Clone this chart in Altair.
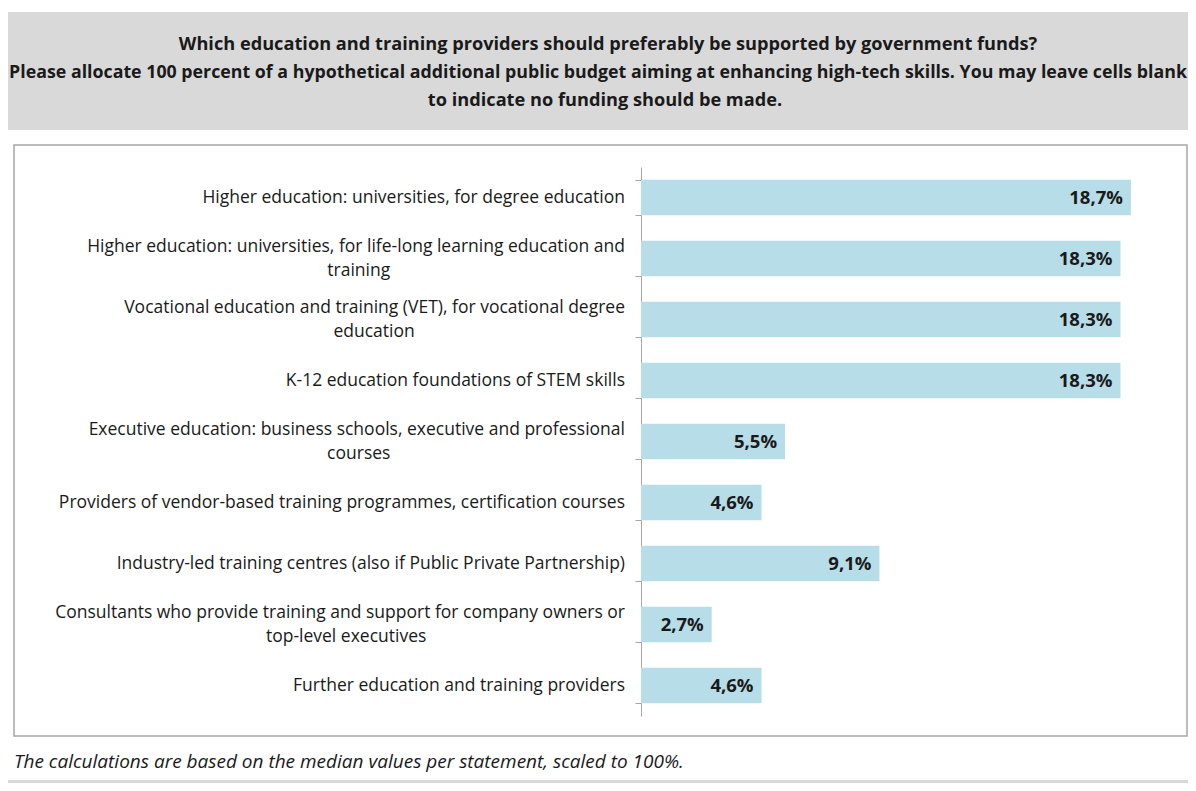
import altair as alt
import pandas as pd

categories = [
    "Higher education: universities, for degree education",
    "Higher education: universities, for life-long learning education and training",
    "Vocational education and training (VET), for vocational degree education",
    "K-12 education foundations of STEM skills",
    "Executive education: business schools, executive and professional courses",
    "Providers of vendor-based training programmes, certification courses",
    "Industry-led training centres (also if Public Private Partnership)",
    "Consultants who provide training and support for company owners or top-level executives",
    "Further education and training providers",
]
label_line1 = [
    "Higher education: universities, for degree education",
    "Higher education: universities, for life-long learning education and",
    "Vocational education and training (VET), for vocational degree",
    "K-12 education foundations of STEM skills",
    "Executive education: business schools, executive and professional",
    "Providers of vendor-based training programmes, certification courses",
    "Industry-led training centres (also if Public Private Partnership)",
    "Consultants who provide training and support for company owners or",
    "Further education and training providers",
]
label_line2 = ["", "training", "education", "", "courses", "", "", "top-level executives", ""]
values = [18.7, 18.3, 18.3, 18.3, 5.5, 4.6, 9.1, 2.7, 4.6]

title_lines = [
    "Which education and training providers should preferably be supported by government funds?",
    "Please allocate 100 percent of a hypothetical additional  public budget aiming at enhancing high-tech skills. You may leave cells blank",
    "to indicate no funding should be made.",
]
footnote = "The calculations are based on the median values per statement, scaled to 100%."

FONT = "'Open Sans', sans-serif"
TXT = "#1a1a1a"

df = pd.DataFrame({
    "category": categories,
    "line1": label_line1,
    "line2": label_line2,
    "value": values,
})
df["two"] = df["line2"] != ""

one = pd.DataFrame({"a": [0]})

W, H = 1180, 775
AX = 633
ysc = alt.Scale(domain=categories, range=[159, 708], paddingInner=0.42, paddingOuter=0.21)
yenc = alt.Y("category:N", sort=categories, scale=ysc,
             axis=alt.Axis(orient="left", offset=-AX, labels=False, title=None,
                           domainColor="#a6a6a6", tickColor="#a6a6a6", tickSize=6,
                           tickBand="extent", domainWidth=1, tickWidth=1, grid=False))
xenc = alt.X("value:Q", scale=alt.Scale(domain=[0, 20], range=[AX, AX + 524]), axis=None)

title_bg = alt.Chart(one).mark_rect(color="#d9d9d9").encode(
    x=alt.value(0), x2=alt.value(W), y=alt.value(4), y2=alt.value(122))
bottom_bg = alt.Chart(one).mark_rect(color="#d9d9d9").encode(
    x=alt.value(0), x2=alt.value(W), y=alt.value(772), y2=alt.value(H))
border = alt.Chart(one).mark_rect(fillOpacity=0, stroke="#a6a6a6", strokeWidth=1.5).encode(
    x=alt.value(6), x2=alt.value(W - 1), y=alt.value(137), y2=alt.value(728))


def title_line(i, size, cx, cy):
    return alt.Chart(pd.DataFrame({"t": [title_lines[i]]})).mark_text(
        font=FONT, fontSize=size, fontWeight="bold", color=TXT, align="center",
        baseline="middle").encode(x=alt.value(cx), y=alt.value(cy), text="t:N")


t1 = title_line(0, 18.2, 600, 37)
t2 = title_line(1, 17.8, 590, 65)
t3 = title_line(2, 18.2, 597, 93)

foot_txt = alt.Chart(pd.DataFrame({"t": [footnote]})).mark_text(
    font=FONT, fontSize=19, fontStyle="italic", color=TXT, align="left",
    baseline="middle").encode(x=alt.value(6), y=alt.value(754), text="t:N")

base = alt.Chart(df)

bars = base.mark_bar(color="#b7dde8").encode(y=yenc, x=xenc)

ylab = alt.Y("category:N", sort=categories, scale=ysc)

vals = base.transform_calculate(
    lab="replace(format(datum.value, '.1f'), '.', ',') + '%'"
).mark_text(font=FONT, fontSize=18.5, fontWeight="bold", color=TXT, align="right",
            baseline="middle", dx=-8).encode(y=ylab, x=xenc, text="lab:N")

LS = 17.5
LX = AX - 16
lab_single = base.transform_filter("!datum.two").mark_text(
    font=FONT, fontSize=LS, color=TXT, align="right", baseline="middle").encode(
    y=ylab, x=alt.value(LX), text="line1:N")
lab_l1 = base.transform_filter("datum.two").mark_text(
    font=FONT, fontSize=LS, color=TXT, align="right", baseline="middle", dy=-12).encode(
    y=ylab, x=alt.value(LX), text="line1:N")


def cnt(cls):
    return f"(length(datum.line1) - length(replace(datum.line1, regexp('{cls}', 'g'), '')))"


# approximate rendered width of line 1 (em units) to centre line 2 beneath it
lab_l2 = base.transform_filter("datum.two").transform_calculate(
    em=(f"0.6*length(datum.line1) - 0.34*{cnt('[ijl ,.:;]')} - 0.24*{cnt('[ftr()-]')}"
        f" - 0.11*{cnt('[csvyzxk]')} + 0.25*{cnt('[mw]')}")
).transform_calculate(
    cx=f"{LX} - 0.98 * {LS} * datum.em / 2"
).mark_text(font=FONT, fontSize=LS, color=TXT, align="center", baseline="middle", dy=12).encode(
    y=ylab, x=alt.X("cx:Q", scale=None), text="line2:N")

chart = alt.layer(
    title_bg, bottom_bg, border, t1, t2, t3, foot_txt, bars, vals, lab_single, lab_l1, lab_l2
).properties(
    width=W, height=H, padding=0, autosize=alt.AutoSizeParams(type="none"),
    background="white"
).configure_view(stroke=None)

chart.save("out.html", embed_options={"renderer": "svg", "actions": False})
